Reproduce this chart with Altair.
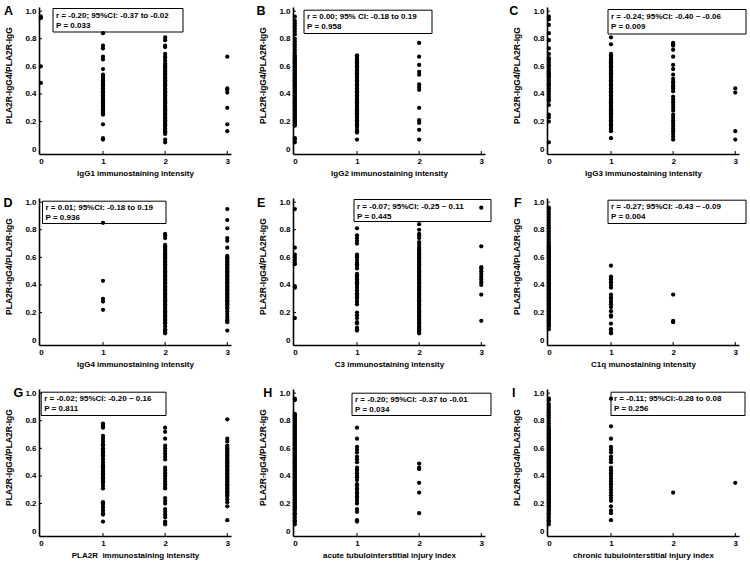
import altair as alt
import pandas as pd

# ---------------------------------------------------------------- data
# PLA2R-IgG4 / PLA2R-IgG ratio grouped by staining score / injury index
igg1_0 = [0.96, 0.95, 0.60, 0.48]
igg1_1 = [0.84, 0.75, 0.73, 0.67, 0.65, 0.58, 0.54, 0.53, 0.52, 0.51, 0.50, 0.49, 0.48, 0.47,
          0.46, 0.45, 0.44, 0.43, 0.42, 0.41, 0.40, 0.39, 0.38, 0.37, 0.36, 0.35, 0.34, 0.33,
          0.32, 0.31, 0.30, 0.29, 0.28, 0.27, 0.26, 0.25, 0.18, 0.08, 0.07]
igg1_2 = [0.81, 0.79, 0.75, 0.74, 0.69, 0.67, 0.66, 0.64, 0.62, 0.61, 0.60, 0.59, 0.58, 0.57,
          0.56, 0.55, 0.54, 0.53, 0.52, 0.51, 0.50, 0.49, 0.48, 0.47, 0.46, 0.45, 0.44, 0.43,
          0.42, 0.41, 0.40, 0.39, 0.38, 0.37, 0.36, 0.35, 0.34, 0.33, 0.32, 0.31, 0.30, 0.29,
          0.28, 0.27, 0.26, 0.25, 0.24, 0.23, 0.22, 0.21, 0.20, 0.19, 0.18, 0.17, 0.16, 0.15,
          0.14, 0.13, 0.12, 0.11, 0.07, 0.05]
igg1_3 = [0.67, 0.44, 0.43, 0.41, 0.30, 0.18, 0.13]

igg2_0 = [0.96, 0.93, 0.91, 0.89, 0.87, 0.85, 0.83, 0.80, 0.78, 0.76, 0.74, 0.72, 0.70, 0.68,
          0.67, 0.66, 0.65, 0.64, 0.63, 0.62, 0.61, 0.60, 0.59, 0.58, 0.57, 0.56, 0.55, 0.54,
          0.53, 0.52, 0.51, 0.50, 0.49, 0.48, 0.47, 0.46, 0.45, 0.44, 0.43, 0.42, 0.41, 0.40,
          0.39, 0.38, 0.37, 0.36, 0.35, 0.34, 0.33, 0.32, 0.31, 0.30, 0.29, 0.28, 0.27, 0.26,
          0.25, 0.24, 0.23, 0.22, 0.21, 0.20, 0.19, 0.18, 0.17, 0.08, 0.07, 0.05]
igg2_1 = [0.68, 0.67, 0.66, 0.65, 0.64, 0.63, 0.62, 0.61, 0.60, 0.59, 0.58, 0.57, 0.56, 0.55,
          0.54, 0.53, 0.52, 0.51, 0.50, 0.49, 0.48, 0.47, 0.46, 0.45, 0.44, 0.43, 0.42, 0.41,
          0.40, 0.39, 0.38, 0.37, 0.36, 0.35, 0.34, 0.33, 0.32, 0.31, 0.30, 0.29, 0.28, 0.27,
          0.26, 0.25, 0.24, 0.23, 0.22, 0.21, 0.20, 0.19, 0.18, 0.17, 0.16, 0.14, 0.13, 0.12,
          0.07]
igg2_2 = [0.77, 0.67, 0.61, 0.56, 0.54, 0.47, 0.45, 0.43, 0.30, 0.21, 0.19, 0.14, 0.07]

igg3_0 = [0.96, 0.94, 0.90, 0.84, 0.79, 0.73, 0.69, 0.66, 0.65, 0.63, 0.61, 0.60, 0.58, 0.56,
          0.55, 0.54, 0.53, 0.52, 0.50, 0.48, 0.47, 0.46, 0.44, 0.42, 0.40, 0.38, 0.36, 0.35,
          0.32, 0.25, 0.23, 0.20, 0.05]
igg3_1 = [0.81, 0.76, 0.69, 0.68, 0.67, 0.66, 0.65, 0.64, 0.63, 0.62, 0.61, 0.60, 0.59, 0.58,
          0.57, 0.56, 0.55, 0.54, 0.53, 0.52, 0.51, 0.50, 0.49, 0.48, 0.47, 0.46, 0.45, 0.44,
          0.43, 0.42, 0.41, 0.40, 0.39, 0.38, 0.37, 0.36, 0.35, 0.34, 0.33, 0.32, 0.31, 0.30,
          0.29, 0.28, 0.27, 0.26, 0.25, 0.24, 0.23, 0.22, 0.21, 0.20, 0.19, 0.18, 0.17, 0.16,
          0.15, 0.14, 0.13, 0.08]
igg3_2 = [0.77, 0.76, 0.75, 0.72, 0.67, 0.61, 0.58, 0.54, 0.51, 0.49, 0.48, 0.46, 0.45, 0.44,
          0.42, 0.38, 0.36, 0.34, 0.32, 0.30, 0.28, 0.25, 0.23, 0.21, 0.19, 0.17, 0.15, 0.13,
          0.11, 0.09, 0.07]
igg3_3 = [0.44, 0.41, 0.13, 0.07]

igg4_1 = [0.85, 0.43, 0.30, 0.28, 0.22]
igg4_2 = [0.77, 0.76, 0.74, 0.69, 0.68, 0.67, 0.66, 0.65, 0.64, 0.63, 0.62, 0.61, 0.60, 0.59,
          0.58, 0.57, 0.56, 0.55, 0.54, 0.53, 0.52, 0.51, 0.50, 0.49, 0.48, 0.47, 0.46, 0.45,
          0.44, 0.43, 0.42, 0.41, 0.40, 0.39, 0.38, 0.37, 0.36, 0.35, 0.34, 0.33, 0.32, 0.31,
          0.30, 0.29, 0.28, 0.27, 0.26, 0.25, 0.24, 0.23, 0.22, 0.21, 0.20, 0.19, 0.18, 0.17,
          0.16, 0.15, 0.14, 0.13, 0.12, 0.10, 0.08, 0.07, 0.06, 0.05]
igg4_3 = [0.95, 0.87, 0.81, 0.74, 0.72, 0.67, 0.61, 0.60, 0.59, 0.58, 0.57, 0.56, 0.55, 0.54,
          0.53, 0.52, 0.51, 0.50, 0.49, 0.48, 0.47, 0.46, 0.45, 0.44, 0.43, 0.42, 0.41, 0.40,
          0.39, 0.38, 0.37, 0.36, 0.35, 0.34, 0.33, 0.32, 0.31, 0.30, 0.29, 0.28, 0.27, 0.26,
          0.25, 0.24, 0.23, 0.21, 0.19, 0.17, 0.15, 0.14, 0.13, 0.07]

c3_0 = [0.95, 0.67, 0.62, 0.60, 0.58, 0.56, 0.55, 0.39, 0.38, 0.16]
c3_1 = [0.81, 0.76, 0.74, 0.72, 0.70, 0.62, 0.61, 0.60, 0.58, 0.56, 0.55, 0.54, 0.52, 0.48,
        0.47, 0.46, 0.45, 0.44, 0.43, 0.42, 0.41, 0.40, 0.38, 0.36, 0.34, 0.33, 0.32, 0.31,
        0.30, 0.28, 0.26, 0.20, 0.18, 0.16, 0.13, 0.12, 0.09, 0.08, 0.07]
c3_2 = [0.84, 0.80, 0.77, 0.76, 0.74, 0.71, 0.69, 0.67, 0.66, 0.65, 0.64, 0.63, 0.62, 0.61,
        0.60, 0.59, 0.58, 0.57, 0.56, 0.55, 0.54, 0.53, 0.52, 0.51, 0.50, 0.49, 0.48, 0.47,
        0.46, 0.45, 0.44, 0.43, 0.42, 0.41, 0.40, 0.39, 0.38, 0.37, 0.36, 0.35, 0.34, 0.33,
        0.32, 0.31, 0.30, 0.29, 0.28, 0.27, 0.26, 0.25, 0.24, 0.23, 0.22, 0.21, 0.20, 0.19,
        0.18, 0.17, 0.16, 0.15, 0.14, 0.13, 0.12, 0.11, 0.10, 0.09, 0.08, 0.07, 0.06, 0.05]
c3_3 = [0.96, 0.68, 0.53, 0.52, 0.50, 0.48, 0.46, 0.44, 0.42, 0.40, 0.33, 0.14]

c1q_0 = [0.96, 0.95, 0.93, 0.91, 0.89, 0.87, 0.85, 0.83, 0.81, 0.79, 0.77, 0.75, 0.73, 0.71,
         0.69, 0.68, 0.67, 0.66, 0.65, 0.64, 0.63, 0.62, 0.61, 0.60, 0.59, 0.58, 0.57, 0.56,
         0.55, 0.54, 0.53, 0.52, 0.51, 0.50, 0.49, 0.48, 0.47, 0.46, 0.45, 0.44, 0.43, 0.42,
         0.41, 0.40, 0.39, 0.38, 0.37, 0.36, 0.35, 0.34, 0.33, 0.32, 0.31, 0.30, 0.29, 0.28,
         0.27, 0.26, 0.25, 0.24, 0.23, 0.22, 0.21, 0.20, 0.19, 0.18, 0.17, 0.16, 0.15, 0.14,
         0.13, 0.12, 0.11, 0.10, 0.08]
c1q_1 = [0.54, 0.46, 0.45, 0.44, 0.42, 0.40, 0.38, 0.33, 0.31, 0.30, 0.28, 0.26, 0.24, 0.21,
         0.18, 0.17, 0.12, 0.08, 0.06, 0.05]
c1q_2 = [0.33, 0.14, 0.13]

pla2r_1 = [0.78, 0.77, 0.76, 0.75, 0.69, 0.67, 0.65, 0.63, 0.62, 0.60, 0.59, 0.58, 0.57, 0.56,
           0.55, 0.54, 0.52, 0.50, 0.48, 0.47, 0.46, 0.45, 0.44, 0.43, 0.42, 0.41, 0.40, 0.39,
           0.38, 0.37, 0.36, 0.35, 0.33, 0.31, 0.21, 0.20, 0.19, 0.17, 0.15, 0.13, 0.12, 0.07]
pla2r_2 = [0.75, 0.72, 0.67, 0.62, 0.60, 0.58, 0.56, 0.54, 0.52, 0.46, 0.44, 0.42, 0.40, 0.38,
           0.36, 0.34, 0.32, 0.31, 0.24, 0.22, 0.20, 0.16, 0.14, 0.12, 0.10, 0.07, 0.06, 0.05]
pla2r_3 = [0.81, 0.67, 0.65, 0.62, 0.61, 0.60, 0.59, 0.58, 0.57, 0.56, 0.55, 0.54, 0.53, 0.52,
           0.51, 0.50, 0.49, 0.48, 0.47, 0.46, 0.45, 0.44, 0.43, 0.42, 0.41, 0.40, 0.39, 0.38,
           0.37, 0.36, 0.35, 0.34, 0.33, 0.32, 0.31, 0.30, 0.29, 0.28, 0.27, 0.26, 0.25, 0.23,
           0.21, 0.18, 0.08]

acute_0 = [0.96, 0.95, 0.85, 0.84, 0.83, 0.82, 0.81, 0.80, 0.79, 0.78, 0.77, 0.76, 0.75, 0.74,
           0.73, 0.72, 0.71, 0.70, 0.69, 0.68, 0.67, 0.66, 0.65, 0.64, 0.63, 0.62, 0.61, 0.60,
           0.59, 0.58, 0.57, 0.56, 0.55, 0.54, 0.53, 0.52, 0.51, 0.50, 0.49, 0.48, 0.47, 0.46,
           0.45, 0.44, 0.43, 0.42, 0.41, 0.40, 0.39, 0.38, 0.37, 0.36, 0.35, 0.34, 0.33, 0.32,
           0.31, 0.30, 0.29, 0.28, 0.27, 0.26, 0.25, 0.24, 0.23, 0.22, 0.21, 0.20, 0.19, 0.18,
           0.17, 0.16, 0.15, 0.13, 0.12, 0.10, 0.08, 0.07, 0.05]
acute_1 = [0.75, 0.67, 0.61, 0.59, 0.57, 0.54, 0.52, 0.50, 0.46, 0.45, 0.44, 0.42, 0.40, 0.39,
           0.37, 0.34, 0.33, 0.31, 0.30, 0.28, 0.27, 0.25, 0.24, 0.22, 0.20, 0.16, 0.14, 0.08,
           0.07]
acute_2 = [0.49, 0.46, 0.45, 0.35, 0.28, 0.13]

chronic_0 = [0.96, 0.95, 0.92, 0.90, 0.88, 0.86, 0.84, 0.82, 0.80, 0.78, 0.76, 0.74, 0.73, 0.72,
             0.71, 0.70, 0.69, 0.68, 0.67, 0.66, 0.65, 0.64, 0.63, 0.62, 0.61, 0.60, 0.59, 0.58,
             0.57, 0.56, 0.55, 0.54, 0.53, 0.52, 0.51, 0.50, 0.49, 0.48, 0.47, 0.46, 0.45, 0.44,
             0.43, 0.42, 0.41, 0.40, 0.39, 0.38, 0.37, 0.36, 0.35, 0.34, 0.33, 0.32, 0.31, 0.30,
             0.29, 0.28, 0.27, 0.26, 0.25, 0.24, 0.23, 0.22, 0.21, 0.20, 0.19, 0.18, 0.17, 0.16,
             0.15, 0.13, 0.12, 0.10, 0.08, 0.07, 0.05]
chronic_1 = [0.96, 0.76, 0.67, 0.61, 0.59, 0.57, 0.54, 0.52, 0.50, 0.46, 0.44, 0.42, 0.40, 0.38,
             0.36, 0.34, 0.32, 0.30, 0.28, 0.26, 0.24, 0.22, 0.18, 0.15, 0.13, 0.08]
chronic_2 = [0.28]
chronic_3 = [0.35]

# ---------------------------------------------------------------- panel settings
panels = [
    dict(letter="A", xtitle="IgG1 immunostaining intensity",
         stats="r = -0.20; 95%CI: -0.37 to -0.02\nP = 0.033",
         groups={0: igg1_0, 1: igg1_1, 2: igg1_2, 3: igg1_3},
         box=(14, 144, 1.5, 25), lx=-35, ly=8.2),
    dict(letter="B", xtitle="IgG2 immunostaining intensity",
         stats="r = 0.00; 95% CI: -0.18 to 0.19\nP = 0.958",
         groups={0: igg2_0, 1: igg2_1, 2: igg2_2},
         box=(11, 139, 3.2, 26.5), lx=-36.4, ly=8.2),
    dict(letter="C", xtitle="IgG3 immunostaining intensity",
         stats="r = -0.24; 95%CI: -0.40 ~ -0.06\nP = 0.009",
         groups={0: igg3_0, 1: igg3_1, 2: igg3_2, 3: igg3_3},
         box=(61, 199, 2.5, 27), lx=-37.7, ly=8.2),
    dict(letter="D", xtitle="IgG4 immunostaining intensity",
         stats="r = 0.01; 95%CI: -0.18 to 0.19\nP = 0.936",
         groups={1: igg4_1, 2: igg4_2, 3: igg4_3},
         box=(3.5, 127, 3.2, 25.5), lx=-35.5, ly=8.9),
    dict(letter="E", xtitle="C3 immunostaining intensity",
         stats="r = -0.07; 95%CI: -0.25 ~ 0.11\nP = 0.445",
         groups={0: c3_0, 1: c3_1, 2: c3_2, 3: c3_3},
         box=(61, 198, 1.5, 23.5), lx=-36, ly=8.9),
    dict(letter="F", xtitle="C1q munostaining intensity",
         stats="r = -0.27; 95%CI: -0.43 ~ -0.09\nP = 0.004",
         groups={0: c1q_0, 1: c1q_1, 2: c1q_2},
         box=(61, 199, 2.2, 25.5), lx=-33, ly=8.9),
    dict(letter="G", xtitle="PLA2R\u00a0 immunostaining intensity",
         stats="r = -0.02; 95%CI: -0.20 ~ 0.16\nP = 0.811",
         groups={1: pla2r_1, 2: pla2r_2, 3: pla2r_3},
         box=(2.2, 127, 3.2, 26.5), lx=-25.5, ly=8),
    dict(letter="H", xtitle="acute tubulointerstitial injury index",
         stats="r = -0.20; 95%CI: -0.37 to -0.01\nP = 0.034",
         groups={0: acute_0, 1: acute_1, 2: acute_2},
         box=(59, 198, 4.2, 26.5), lx=-29.7, ly=8),
    dict(letter="I", xtitle="chronic tubulointerstitial injury index",
         stats="r = -0.11; 95%CI:-0.28 to 0.08\nP = 0.256",
         groups={0: chronic_0, 1: chronic_1, 2: chronic_2, 3: chronic_3},
         box=(64, 198, 3.2, 26.5), lx=-35, ly=8),
]

x_ticks = [0, 1, 2, 3]
y_ticks = [0, 0.2, 0.4, 0.6, 0.8, 1.0]
y_title = "PLA2R-IgG4/PLA2R-IgG"

W, H = 192, 147
FONT = "Liberation Sans"
x_scale = alt.Scale(domain=[-0.03, 3.06], nice=False, zero=False)
y_scale = alt.Scale(domain=[-0.035, 1.03], nice=False, zero=False)

y_axis = alt.Axis(
    values=y_ticks, title=y_title, grid=False, tickSize=0, labelPadding=3,
    labelExpr="datum.value == 0 ? '0' : format(datum.value, '.1f')",
    labelFont=FONT, labelFontSize=8, labelFontWeight="bold", labelColor="black",
    titleFont=FONT, titleFontSize=8.5, titleFontWeight="bold", titleColor="black",
    titleX=-30.5, titleY=68, titleAngle=270, titleAlign="center", titleBaseline="middle",
    domainColor="black", domainWidth=1.6, labelFlush=False,
)


def x_axis(title):
    return alt.Axis(
        values=x_ticks, format="d", title=title, grid=False, tickSize=0, labelPadding=3,
        labelFont=FONT, labelFontSize=8, labelFontWeight="bold", labelColor="black",
        titleFont=FONT, titleFontSize=8, titleFontWeight="bold", titleColor="black",
        titleY=21.5, titleBaseline="alphabetic", titleAlign="center", titleX=W / 2,
        domainColor="black", domainWidth=1.6, labelFlush=False,
    )


def panel(p):
    pts = pd.DataFrame(
        [{"x": k, "y": v} for k, vals in p["groups"].items() for v in vals]
    )
    xa = x_axis(p["xtitle"])
    xe = alt.X("x:Q", scale=x_scale, axis=xa)
    ye = alt.Y("y:Q", scale=y_scale, axis=y_axis)
    l, r, t, b = p["box"]
    one = pd.DataFrame({"txt": [p["stats"]], "letter": [p["letter"]]})

    box = alt.Chart(one).mark_rect(fill="white", stroke="black", strokeWidth=1).encode(
        x=alt.value(l), x2=alt.value(r), y=alt.value(t), y2=alt.value(b)
    )
    stats = alt.Chart(one).mark_text(
        align="left", baseline="alphabetic", font=FONT, fontSize=8, fontWeight="bold",
        lineBreak="\n", lineHeight=10, color="black",
    ).encode(x=alt.value(l + 3), y=alt.value(t + 9), text="txt:N")
    letter = alt.Chart(one).mark_text(
        align="left", baseline="alphabetic", font=FONT, fontSize=12.5, fontWeight="bold",
        color="black",
    ).encode(x=alt.value(p["lx"]), y=alt.value(p["ly"]), text="letter:N")

    dots = alt.Chart(pts).mark_circle(size=18, color="black", opacity=1).encode(x=xe, y=ye)

    xt = alt.Chart(pd.DataFrame({"x": x_ticks[1:]})).mark_rule(
        color="black", strokeWidth=1
    ).encode(x=xe, y=alt.value(H), y2=alt.value(H - 3))
    yt = alt.Chart(pd.DataFrame({"y": y_ticks[1:]})).mark_rule(
        color="black", strokeWidth=1
    ).encode(y=ye, x=alt.value(0), x2=alt.value(3))

    return alt.layer(box, stats, dots, xt, yt, letter).properties(width=W, height=H)


chart = (
    alt.concat(*[panel(p) for p in panels], columns=3,
               spacing={"row": 44, "column": 62}, bounds="flush")
    .properties(padding={"left": 3, "top": 5, "right": 0, "bottom": 0}, background="white")
    .configure_view(stroke=None)
)

chart.save("out.html", embed_options={"renderer": "svg", "actions": False})
